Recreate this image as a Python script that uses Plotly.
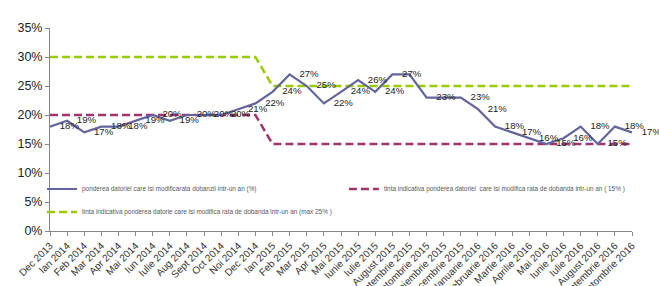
import plotly.graph_objects as go

categories = ["Dec 2013", "Ian 2014", "Feb 2014", "Mar 2014", "Apr 2014", "Mai 2014", "Iun 2014",
              "Iulie 2014", "Aug 2014", "Sept 2014", "Oct 2014", "Noi 2014", "Dec 2014", "Ian 2015",
              "Feb 2015", "Mar 2015", "Apr 2015", "Mai 2015", "Iunie 2015", "Iulie 2015",
              "August 2015", "Septembrie 2015", "Octombrie 2015", "Noiembrie 2015",
              "Decembrie 2015", "Ianuarie 2016", "Februarie 2016", "Martie 2016", "Aprilie 2016",
              "Mai 2016", "Iunie 2016", "Iulie 2016", "August 2016", "Septembrie 2016",
              "Octombrie 2016"]

pondere = [18, 19, 17, 18, 18, 19, 20, 19, 20, 20, 20, 21, 22, 24, 27, 25, 22, 24, 26, 24,
           27, 27, 23, 23, 23, 21, 18, 17, 16, 15, 16, 18, 15, 18, 17]
# labels not shown in the reference for these points
hidden_labels = ["Septembrie 2015", "Noiembrie 2015"]

tinta_15 = [20] * 13 + [15] * 22
tinta_25 = [30] * 13 + [25] * 22

name_main = "ponderea datoriei care isi modificarata dobanzii intr-un an (%)"
name_red = "tinta indicativa ponderea datoriei  care isi modifica rata de dobanda intr-un an ( 15% )"
name_green = "tinta indicativa ponderea datorie care isi modifica rata de dobanda intr-un an (max 25% )"

c_main = "#64649C"
c_red = "#A3336B"
c_green = "#99CC00"
FONT = "Liberation Sans, Arial, sans-serif"

labels = ["" if c in hidden_labels else f"{v}%" for c, v in zip(categories, pondere)]

fig = go.Figure()
fig.add_trace(go.Scatter(x=categories, y=tinta_25, mode="lines", name=name_green,
                         line=dict(color=c_green, width=2.5, dash="8px,4px"), legend="legend3"))
fig.add_trace(go.Scatter(x=categories, y=tinta_15, mode="lines", name=name_red,
                         line=dict(color=c_red, width=2.5, dash="8px,4px"), legend="legend2"))
fig.add_trace(go.Scatter(x=categories, y=pondere, mode="lines", name=name_main,
                         line=dict(color=c_main, width=2.2), legend="legend"))
fig.add_trace(go.Scatter(x=categories, y=pondere, mode="markers+text", text=labels,
                         textposition="middle right", showlegend=False,
                         marker=dict(size=14, color="rgba(0,0,0,0)"),
                         textfont=dict(size=9.6, color="#222222", family=FONT),
                         cliponaxis=False, hoverinfo="skip"))

legfont = dict(size=6.4, color="#595959", family=FONT)
common = dict(orientation="h", bgcolor="rgba(0,0,0,0)", font=legfont, itemwidth=30,
              yanchor="middle", xanchor="left")
fig.update_layout(
    width=659, height=286,
    margin=dict(l=50, r=27, t=28, b=55),
    paper_bgcolor="white", plot_bgcolor="white",
    font=dict(family=FONT),
    legend=dict(x=-0.0137, y=0.207, **common),
    legend2=dict(x=0.505, y=0.207, **common),
    legend3=dict(x=-0.0137, y=0.094, **common),
    xaxis=dict(type="category", range=[0, len(categories) - 1], showgrid=False,
               showline=True, linecolor="#868686", linewidth=1,
               ticks="outside", ticklen=4, tickcolor="#868686", tickangle=-45,
               tickfont=dict(size=10, color="#333333", family=FONT), automargin=False),
    yaxis=dict(range=[0, 35], dtick=5, ticksuffix="%", showgrid=False, zeroline=False,
               showline=True, linecolor="#868686", linewidth=1,
               ticks="outside", ticklen=4, tickcolor="#868686",
               tickfont=dict(size=12.5, color="#222222", family=FONT), automargin=False),
    showlegend=True,
)

# remove the browser's default 8px page margin so the figure sits at the window's corner
fig.write_html("out.html", config={"displayModeBar": False},
               post_script="document.body.style.margin='0px';")
